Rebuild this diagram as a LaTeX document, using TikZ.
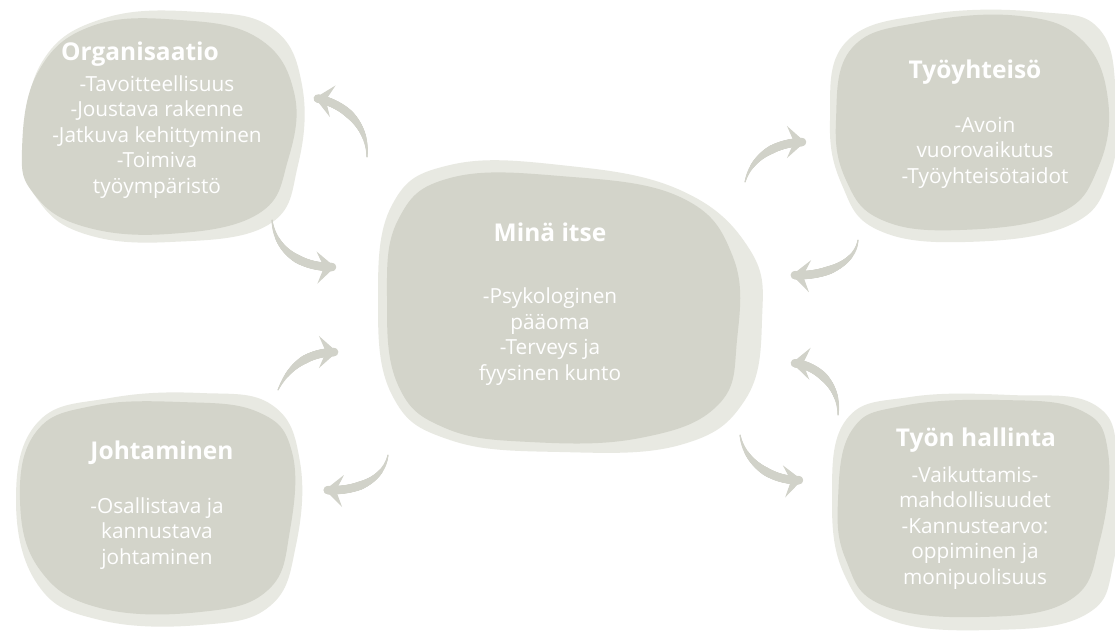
\documentclass[tikz,border=0pt]{standalone}
\usepackage{fontspec}
\setmainfont{Open Sans}
\usetikzlibrary{arrows.meta,decorations.markings}
\definecolor{blobfront}{HTML}{D3D4CA}
\definecolor{blobback}{HTML}{E8E9E2}
\definecolor{arrowcol}{HTML}{D1D2C9}
\tikzset{
  front/.style={fill=blobfront, draw=none},
  back/.style={fill=blobback, draw=none},
  ttl/.style={text=white, font=\bfseries\fontsize{24.5}{28}\selectfont, anchor=base, inner sep=0pt},
  body/.style={text=white, font=\fontsize{20.8}{25.5}\selectfont, align=center, anchor=base, inner sep=0pt},
  flow/.style={draw=arrowcol, line width=1pt, -{Stealth[length=18pt,width=32pt,inset=7pt]},
    postaction={decorate, decoration={markings,
      mark=between positions 0 and 0.97 step 0.5pt with {%
        \pgfmathsetmacro\rr{min(4.2, 0.5+3.7*\pgfkeysvalueof{/pgf/decoration/mark info/distance from start}/(0.55*\pgfdecoratedpathlength))}%
        \fill[arrowcol] (0,0) circle[radius=\rr pt];}}}}
}
\begin{document}
\begin{tikzpicture}[x=1pt,y=-1pt]
\useasboundingbox (0,0) rectangle (1115,632);
\fill[white] (0,0) rectangle (1115,632);

% ---- Organisaatio blob
\fill[back] plot[smooth cycle, tension=0.7] coordinates {(24,150) (42,62) (105,18) (200,12) (272,28) (302,85) (298,165) (268,225) (170,242) (85,234) (38,200)};
\fill[front] plot[smooth cycle, tension=0.7] coordinates {(22,150) (38,72) (92,26) (180,20) (258,38) (294,92) (288,160) (258,214) (168,234) (82,226) (34,194)};

% ---- Center blob
\fill[back] plot[smooth cycle, tension=0.7] coordinates {(378,300) (392,205) (450,165) (560,165) (680,190) (750,250) (762,320) (745,400) (680,445) (560,452) (450,440) (392,395)};
\fill[front] plot[smooth cycle, tension=0.7] coordinates {(387,300) (398,220) (450,178) (560,176) (680,197) (733,257) (737,340) (718,405) (640,438) (530,442) (445,428) (398,385)};

% ---- Tyoyhteiso blob
\fill[back] plot[smooth cycle, tension=0.7] coordinates {(830,120) (846,42) (930,14) (1040,12) (1100,30) (1116,100) (1110,175) (1070,225) (965,242) (878,230) (842,185)};
\fill[front] plot[smooth cycle, tension=0.7] coordinates {(836,120) (852,48) (922,22) (1020,16) (1082,40) (1108,100) (1098,168) (1058,214) (960,230) (882,220) (846,180)};

% ---- Johtaminen blob
\fill[back] plot[smooth cycle, tension=0.7] coordinates {(16,500) (38,422) (110,398) (200,393) (272,405) (300,462) (296,545) (270,606) (200,625) (100,620) (38,585)};
\fill[front] plot[smooth cycle, tension=0.7] coordinates {(20,500) (36,432) (92,406) (180,402) (258,412) (292,452) (290,530) (268,590) (200,612) (100,608) (40,570)};

% ---- Tyon hallinta blob
\fill[back] plot[smooth cycle, tension=0.7] coordinates {(832,500) (846,420) (910,397) (1010,395) (1095,405) (1118,462) (1114,560) (1085,615) (990,630) (890,620) (845,576)};
\fill[front] plot[smooth cycle, tension=0.7] coordinates {(838,500) (852,430) (902,406) (1000,400) (1080,410) (1108,452) (1100,540) (1070,600) (980,617) (882,605) (846,560)};

% ---- Texts (body nodes anchored at the baseline of their last line)
\node[ttl] (org) at (140,60) {Organisaatio};
\node[body] (orgtxt) at (157,193) {-Tavoitteellisuus\\-Joustava rakenne\\-Jatkuva kehittyminen\\-Toimiva\\työympäristö};

\node[ttl] (mina) at (550,241) {Minä itse};
\node[body] (minatxt) at (550,380) {-Psykologinen\\pääoma\\-Terveys ja\hspace*{30pt}\\fyysinen kunto};

\node[ttl] (yht) at (975,78) {Työyhteisö};
\node[body] (yhttxt) at (985,183) {-Avoin\\vuorovaikutus\\-Työyhteisötaidot};

\node[ttl] (joh) at (162,459) {Johtaminen};
\node[body] (johtxt) at (157,564) {-Osallistava ja\\kannustava\\johtaminen};

\node[ttl] (hal) at (976,446) {Työn hallinta};
\node[body] (haltxt) at (975,584) {-Vaikuttamis-\\mahdollisuudet\\-Kannustearvo:\\oppiminen ja\\monipuolisuus};

% ---- Arrow end points
\coordinate (t1) at (367,157); \coordinate (h1) at (315,98);
\coordinate (t2) at (272,220); \coordinate (h2) at (335,267);
\coordinate (t3) at (278,390); \coordinate (h3) at (337,352);
\coordinate (t4) at (388,455); \coordinate (h4) at (325,490);
\coordinate (t5) at (745,182); \coordinate (h5) at (805,142);
\coordinate (t6) at (858,240); \coordinate (h6) at (792,275);
\coordinate (t7) at (838,415); \coordinate (h7) at (792,363);
\coordinate (t8) at (740,435); \coordinate (h8) at (802,480);

\draw[flow] (t1) .. controls (368,128) and (348,104) .. (h1);
\draw[flow] (t2) .. controls (275,250) and (300,268) .. (h2);
\draw[flow] (t3) .. controls (290,364) and (310,352) .. (h3);
\draw[flow] (t4) .. controls (384,478) and (360,492) .. (h4);
\draw[flow] (t5) .. controls (752,155) and (778,142) .. (h5);
\draw[flow] (t6) .. controls (855,265) and (822,277) .. (h6);
\draw[flow] (t7) .. controls (840,385) and (816,364) .. (h7);
\draw[flow] (t8) .. controls (745,465) and (775,482) .. (h8);
\end{tikzpicture}
\end{document}
